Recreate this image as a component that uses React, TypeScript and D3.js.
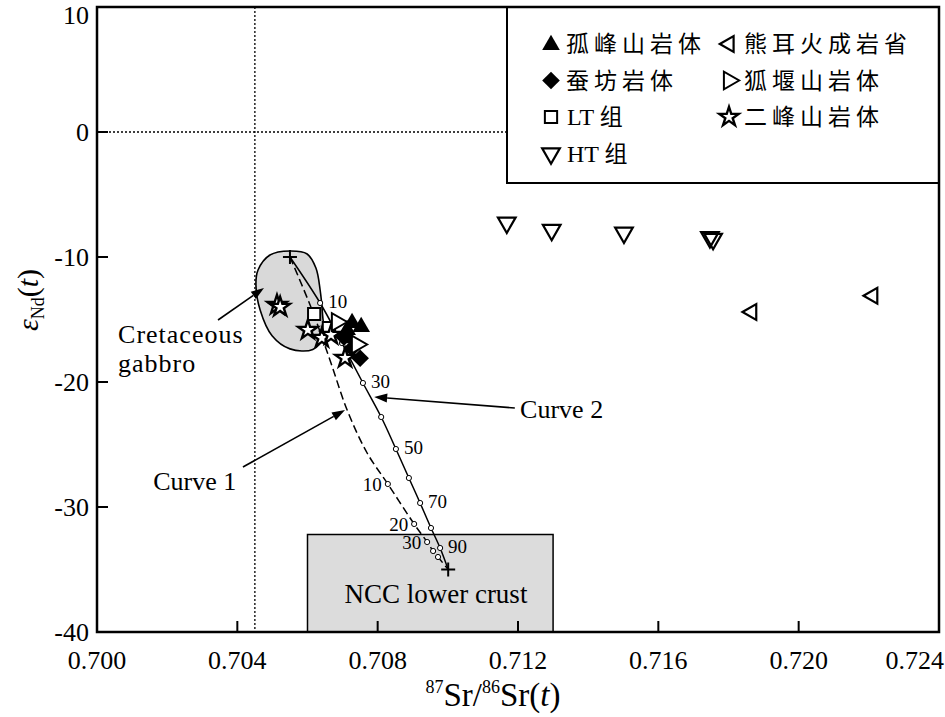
import * as d3 from 'd3';
import React from 'react';

// 87Sr/86Sr(t) vs eNd(t)
const xTicks = [0.7, 0.704, 0.708, 0.712, 0.716, 0.72, 0.724];
const yTicks = [10, 0, -10, -20, -30, -40];

const gufengshan = [[0.70727, -15.28], [0.70753, -15.6], [0.70713, -15.84], [0.70718, -16.5]];
const canfang = [[0.7075, -18.1], [0.70704, -16.4], [0.70727, -17.3]];
const ltGroup = [[0.70619, -14.56], [0.70661, -15.68]];
const htGroup = [[0.71168, -7.26], [0.71296, -7.84], [0.71502, -8.06], [0.71747, -8.42], [0.71756, -8.56]];
const xiongEr = [[0.71866, -14.4], [0.72211, -13.1]];
const huyanshan = [[0.70684, -15.2], [0.70741, -17.0]];
const erfengshan = [[0.70513, -13.84], [0.70522, -14.0], [0.70601, -15.84], [0.70641, -16.48], [0.70667, -16.24], [0.70707, -18.08]];

const gabbroOutline = [
  [0.70459, -11.04], [0.70493, -9.84], [0.7055, -9.52], [0.70599, -9.76], [0.70624, -10.88],
  [0.70636, -12.64], [0.70643, -14.64], [0.70645, -16.4], [0.70615, -17.4], [0.7055, -17.35],
  [0.70499, -16.3], [0.70465, -14.24], [0.70453, -12.24],
];

const mantleEnd = [0.7055, -10.0];
const crustEnd = [0.71001, -35.0];

// curve 1 (dashed)
const curve1Path = [[0.7055, -10.0], [0.70613, -14.24], [0.70664, -18.24], [0.70713, -22.24], [0.7077, -25.68],
  [0.70829, -28.16], [0.70904, -31.36], [0.70941, -32.8], [0.70958, -33.52], [0.70972, -34.0], [0.71001, -35.0]];
const curve1Ticks = [[10, 0.70829, -28.16], [20, 0.70904, -31.36], [30, 0.70941, -32.8], [40, 0.70958, -33.52], [50, 0.70972, -34.0]];
const curve1Labels = [10, 20, 30];

// curve 2 (solid)
const curve2Path = [[0.7055, -10.0], [0.70636, -13.68], [0.70698, -16.88], [0.70758, -20.08], [0.7081, -22.8],
  [0.70852, -25.36], [0.70889, -27.68], [0.70921, -29.68], [0.70952, -31.68], [0.70978, -33.28], [0.71001, -35.0]];
const curve2Ticks = [[10, 0.70636, -13.68], [20, 0.70698, -16.88], [30, 0.70758, -20.08], [40, 0.7081, -22.8],
  [50, 0.70852, -25.36], [60, 0.70889, -27.68], [70, 0.70921, -29.68], [80, 0.70952, -31.68], [90, 0.70978, -33.28]];
const curve2Labels = [10, 30, 50, 70, 90];

const nccBox = { x0: 0.706, x1: 0.713, y0: -40, y1: -32.2 };
const dashX = 0.7045;

const W = 945;
const H = 717;
const x = d3.scaleLinear().domain([0.7, 0.724]).range([97, 939]);
const y = d3.scaleLinear().domain([-40, 10]).range([632, 7]);

const serif = "'Liberation Serif', 'Times New Roman', serif";
const cjk = "'Liberation Serif', 'Noto Sans CJK SC', serif";

const tri = d3.symbol(d3.symbolTriangle, 135)();
const triSmall = d3.symbol(d3.symbolTriangle, 110)();
const star = d3.symbol(d3.symbolStar, 115)();
const square = d3.symbol(d3.symbolSquare, 150)();
const diamond = d3.symbol(d3.symbolSquare, 155)();

type Marker = (key: string, px: number, py: number) => React.ReactElement;

const mUp: Marker = (k, px, py) => <path key={k} d={tri} transform={`translate(${px},${py})`} fill="#000" />;
const mDiamond: Marker = (k, px, py) => <path key={k} d={diamond} transform={`translate(${px},${py}) rotate(45)`} fill="#000" />;
const mSquare: Marker = (k, px, py) => <path key={k} d={square} transform={`translate(${px},${py})`} fill="#fff" stroke="#000" strokeWidth={2} />;
const mDown: Marker = (k, px, py) => <path key={k} d={tri} transform={`translate(${px},${py}) rotate(180)`} fill="none" stroke="#000" strokeWidth={2.2} />;
const mLeft: Marker = (k, px, py) => <path key={k} d={triSmall} transform={`translate(${px},${py}) rotate(-90)`} fill="none" stroke="#000" strokeWidth={2.2} />;
const mRight: Marker = (k, px, py) => <path key={k} d={tri} transform={`translate(${px},${py}) rotate(90)`} fill="#fff" stroke="#000" strokeWidth={2} />;
const mStar: Marker = (k, px, py) => <path key={k} d={star} transform={`translate(${px},${py})`} fill="#fff" stroke="#000" strokeWidth={2.4} />;

const legendRows = [
  { m: mUp, label: '孤峰山岩体', col: 0, row: 0 },
  { m: mLeft, label: '熊耳火成岩省', col: 1, row: 0 },
  { m: mDiamond, label: '蚕坊岩体', col: 0, row: 1 },
  { m: mRight, label: '狐堰山岩体', col: 1, row: 1 },
  { m: mSquare, latin: 'LT', label: '组', col: 0, row: 2 },
  { m: mStar, label: '二峰山岩体', col: 1, row: 2 },
  { m: mDown, latin: 'HT', label: '组', col: 0, row: 3 },
];

const Cross = ({ p }: { p: number[] }) => {
  const cx = x(p[0]);
  const cy = y(p[1]);
  return (
    <g stroke="#000" strokeWidth={2}>
      <line x1={cx - 7} x2={cx + 7} y1={cy} y2={cy} />
      <line x1={cx} x2={cx} y1={cy - 7} y2={cy + 7} />
    </g>
  );
};

const Arrow = ({ from, to }: { from: number[]; to: number[] }) => {
  const x1 = x(from[0]), y1 = y(from[1]), x2 = x(to[0]), y2 = y(to[1]);
  const a = Math.atan2(y2 - y1, x2 - x1);
  const L = 13, Wd = 4.5;
  const bx = x2 - L * Math.cos(a), by = y2 - L * Math.sin(a);
  const p1 = [bx + Wd * Math.sin(a), by - Wd * Math.cos(a)];
  const p2 = [bx - Wd * Math.sin(a), by + Wd * Math.cos(a)];
  return (
    <g>
      <line x1={x1} y1={y1} x2={bx} y2={by} stroke="#000" strokeWidth={1.6} />
      <path d={`M${x2},${y2}L${p1[0]},${p1[1]}L${p2[0]},${p2[1]}Z`} fill="#000" />
    </g>
  );
};

export default function App() {
  const line = d3.line<number[]>().x((d) => x(d[0])).y((d) => y(d[1])).curve(d3.curveCatmullRom);
  const blob = d3.line<number[]>().x((d) => x(d[0])).y((d) => y(d[1])).curve(d3.curveCatmullRomClosed);

  const pts = (arr: number[][], m: Marker, k: string) => arr.map((d, i) => m(`${k}${i}`, x(d[0]), y(d[1])));

  return (
    <svg width={W} height={H} style={{ position: 'absolute', left: 0, top: 0, background: '#fff' }}>
      <rect x={0} y={0} width={W} height={H} fill="#fff" />

      {/* NCC lower crust box */}
      <rect x={x(nccBox.x0)} y={y(nccBox.y1)} width={x(nccBox.x1) - x(nccBox.x0)} height={y(nccBox.y0) - y(nccBox.y1)}
        fill="#dcdcdc" stroke="#000" strokeWidth={1.5} />
      <text x={x(0.70966)} y={y(-37.7)} textAnchor="middle" fontFamily={serif} fontSize={27}>NCC lower crust</text>

      {/* Cretaceous gabbro field */}
      <path d={blob(gabbroOutline) as string} fill="#d9d9d9" stroke="#000" strokeWidth={1.6} />

      {/* reference lines */}
      <line x1={x(dashX)} x2={x(dashX)} y1={y(10)} y2={y(-40)} stroke="#000" strokeWidth={1.3} strokeDasharray="2,2" />
      <line x1={x(0.7)} x2={507} y1={y(0)} y2={y(0)} stroke="#000" strokeWidth={1.3} strokeDasharray="2,2" />

      {/* mixing curves */}
      <path d={line(curve1Path) as string} fill="none" stroke="#000" strokeWidth={1.5} strokeDasharray="8,4" />
      <path d={line(curve2Path) as string} fill="none" stroke="#000" strokeWidth={1.5} />
      {curve1Ticks.map((d) => (
        <circle key={`c1${d[0]}`} cx={x(d[1])} cy={y(d[2])} r={2.6} fill="#fff" stroke="#000" strokeWidth={1} />
      ))}
      {curve2Ticks.map((d) => (
        <circle key={`c2${d[0]}`} cx={x(d[1])} cy={y(d[2])} r={2.6} fill="#fff" stroke="#000" strokeWidth={1} />
      ))}
      {curve1Ticks.filter((d) => curve1Labels.includes(d[0])).map((d) => (
        <text key={`l1${d[0]}`} x={x(d[1]) - 6} y={y(d[2]) + 7} textAnchor="end" fontFamily={serif} fontSize={19}>{d[0]}</text>
      ))}
      {curve2Ticks.filter((d) => curve2Labels.includes(d[0])).map((d) => (
        <text key={`l2${d[0]}`} x={x(d[1]) + 8} y={y(d[2]) + 5} fontFamily={serif} fontSize={19}>{d[0]}</text>
      ))}
      <Cross p={mantleEnd} />
      <Cross p={crustEnd} />

      {/* samples */}
      {pts(erfengshan.slice(0, 2), mStar, 'ea')}
      {pts(ltGroup, mSquare, 'lt')}
      {pts(erfengshan.slice(2), mStar, 'eb')}
      {pts(gufengshan, mUp, 'gf')}
      {pts(canfang, mDiamond, 'cf')}
      {pts(huyanshan, mRight, 'hy')}
      {pts(htGroup, mDown, 'ht')}
      {pts(xiongEr, mLeft, 'xe')}

      {/* annotations */}
      <text x={x(0.7006)} y={y(-16.88)} fontFamily={serif} fontSize={26} letterSpacing={1}>Cretaceous</text>
      <text x={x(0.7006)} y={y(-19.2)} fontFamily={serif} fontSize={26} letterSpacing={1}>gabbro</text>
      <Arrow from={[0.70345, -15.04]} to={[0.70476, -12.48]} />
      <text x={x(0.7016)} y={y(-28.64)} fontFamily={serif} fontSize={26}>Curve 1</text>
      <Arrow from={[0.70416, -26.8]} to={[0.70707, -22.24]} />
      <text x={x(0.71206)} y={y(-22.9)} fontFamily={serif} fontSize={26}>Curve 2</text>
      <Arrow from={[0.71191, -22.08]} to={[0.7079, -21.2]} />

      {/* legend */}
      <rect x={507} y={y(10)} width={x(0.724) - 507} height={176} fill="#fff" stroke="#000" strokeWidth={2} />
      {legendRows.map((r, i) => {
        const sx = r.col === 0 ? 551 : 729;
        const sy = 44 + r.row * 36.5;
        return (
          <g key={`lg${i}`}>
            {r.m(`lm${i}`, sx, sy + (r.m === mUp ? 1 : 0))}
            {r.latin ? (
              <text x={sx + 16} y={sy + 8} fontFamily={cjk} fontSize={24}>
                {r.latin + ' '}
                <tspan fontSize={23}>{r.label}</tspan>
              </text>
            ) : (
              <text x={sx + 15} y={sy + 8} fontFamily={cjk} fontSize={23} letterSpacing={5}>{r.label}</text>
            )}
          </g>
        );
      })}

      {/* axes frame */}
      <rect x={x(0.7)} y={y(10)} width={x(0.724) - x(0.7)} height={y(-40) - y(10)} fill="none" stroke="#000" strokeWidth={2.5} />
      {xTicks.slice(1, -1).map((t) => (
        <line key={`xt${t}`} x1={x(t)} x2={x(t)} y1={y(-40)} y2={y(-40) - 11} stroke="#000" strokeWidth={2} />
      ))}
      {yTicks.slice(1, -1).map((t) => (
        <line key={`yt${t}`} x1={x(0.7)} x2={x(0.7) + 11} y1={y(t)} y2={y(t)} stroke="#000" strokeWidth={2} />
      ))}
      {xTicks.map((t, i) => (
        <text key={`xl${t}`} x={i === xTicks.length - 1 ? W - 1 : x(t)} y={669}
          textAnchor={i === xTicks.length - 1 ? 'end' : 'middle'} fontFamily={serif} fontSize={26}>
          {d3.format('.3f')(t)}
        </text>
      ))}
      {yTicks.map((t) => (
        <text key={`yl${t}`} x={89} y={Math.max(y(t), 15)} dy="0.35em" textAnchor="end" fontFamily={serif} fontSize={26}>
          {t < 0 ? `-${Math.abs(t)}` : t}
        </text>
      ))}

      {/* axis titles */}
      <text x={493} y={706} textAnchor="middle" fontFamily={serif} fontSize={33}>
        <tspan fontSize={18} dy={-13}>87</tspan>
        <tspan dy={13}>Sr/</tspan>
        <tspan fontSize={18} dy={-13}>86</tspan>
        <tspan dy={13}>Sr(</tspan>
        <tspan fontStyle="italic">t</tspan>
        <tspan>)</tspan>
      </text>
      <text transform="translate(38,300) rotate(-90)" textAnchor="middle" fontFamily={serif} fontSize={30}>
        <tspan fontStyle="italic">ε</tspan>
        <tspan fontSize={18} dy={6}>Nd</tspan>
        <tspan dy={-6}>(</tspan>
        <tspan fontStyle="italic">t</tspan>
        <tspan>)</tspan>
      </text>
    </svg>
  );
}
